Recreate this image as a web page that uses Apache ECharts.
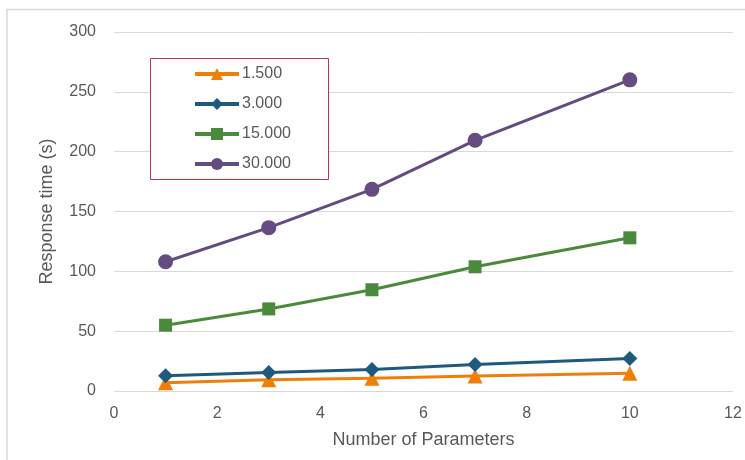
<!DOCTYPE html>
<html>
<head>
<meta charset="utf-8">
<script src="https://cdn.jsdelivr.net/npm/echarts@6/dist/echarts.min.js"></script>
<style>
  html, body { margin: 0; padding: 0; background: #fff; }
  #chart { width: 745px; height: 460px; }
</style>
</head>
<body>
<div id="chart"></div>
<script>
// Number of parameters on the x axis
const paramCounts = [1, 3, 5, 7, 10];

// Response time (s) for each data size
const seriesNames = ['1.500', '3.000', '15.000', '30.000'];
const times1500 = [6.8, 9.4, 10.6, 12.5, 14.8];
const times3000 = [12.8, 15.4, 18.0, 22.2, 27.2];
const times15000 = [55, 68.6, 84.6, 103.8, 128];
const times30000 = [108, 136.5, 168.5, 209.5, 260];

const seriesValues = [times1500, times3000, times15000, times30000];
const colors = ['#F07F09', '#1F5A7E', '#4A8A3C', '#644C80'];
const symbols = ['triangle', 'diamond', 'rect', 'circle'];
const symbolSizes = [15, 15, 13, 15];

const fontFamily = '"Liberation Sans", Arial, sans-serif';
const textColor = '#595959';

const chart = echarts.init(document.getElementById('chart'), null, { renderer: 'canvas' });

const series = seriesNames.map((name, i) => ({
  name: name,
  type: 'line',
  data: paramCounts.map((x, j) => [x, seriesValues[i][j]]),
  symbol: symbols[i],
  symbolSize: symbolSizes[i],
  lineStyle: { color: colors[i], width: 3 },
  itemStyle: { color: colors[i] },
  emphasis: { disabled: true },
  z: 2 + i
}));

chart.setOption({
  animation: false,
  backgroundColor: '#fff',
  graphic: [
    {
      type: 'rect',
      shape: { x: 7, y: 9.5, width: 760, height: 470 },
      style: { fill: 'none', stroke: '#D9D9D9', lineWidth: 1.5 },
      silent: true,
      z: -1
    },
    {
      type: 'rect',
      shape: { x: 150.5, y: 58.5, width: 178, height: 121 },
      style: { fill: '#fff', stroke: '#B3394A', lineWidth: 1 },
      silent: true,
      z: 5
    }
  ],
  grid: { left: 114, right: 12, top: 32, bottom: 69, containLabel: false },
  legend: {
    orient: 'vertical',
    left: 188,
    top: 61,
    itemWidth: 44,
    itemHeight: 15,
    itemGap: 14,
    data: seriesNames,
    lineStyle: { width: 4 },
    textStyle: { color: textColor, fontSize: 16, fontFamily: fontFamily, padding: [0, 0, 0, -2] },
    z: 10,
    selectedMode: false
  },
  xAxis: {
    type: 'value',
    min: 0,
    max: 12,
    interval: 2,
    name: 'Number of Parameters',
    nameLocation: 'middle',
    nameGap: 40,
    nameTextStyle: { color: textColor, fontSize: 18, fontFamily: fontFamily },
    axisLine: { show: false },
    axisTick: { show: false },
    splitLine: { show: false },
    axisLabel: { color: textColor, fontSize: 16, fontFamily: fontFamily, margin: 15 }
  },
  yAxis: {
    type: 'value',
    min: 0,
    max: 300,
    interval: 50,
    name: 'Response time (s)',
    nameLocation: 'middle',
    nameGap: 58,
    nameRotate: 90,
    nameTextStyle: { color: textColor, fontSize: 18, fontFamily: fontFamily },
    axisLine: { show: false },
    axisTick: { show: false },
    splitLine: { lineStyle: { color: '#D9D9D9', width: 1 } },
    axisLabel: { color: textColor, fontSize: 16, fontFamily: fontFamily, margin: 18 }
  },
  series: series
});
</script>
</body>
</html>
